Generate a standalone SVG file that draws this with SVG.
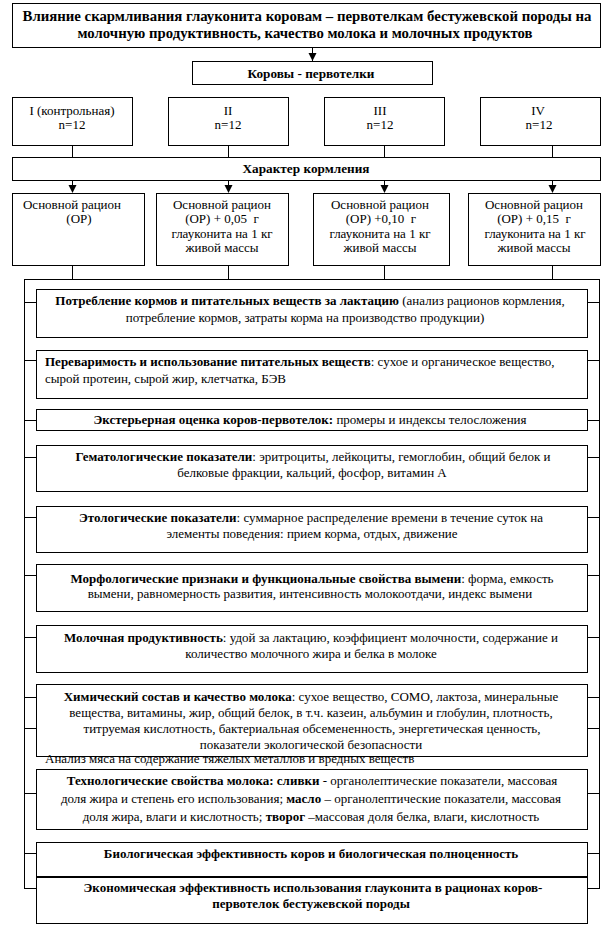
<svg xmlns="http://www.w3.org/2000/svg" width="613" height="926" viewBox="0 0 613 926">
<style>
.box{fill:#fff;stroke:#000;stroke-width:1}
.ln{stroke:#000;stroke-width:1;fill:none}
.t{font-family:'Liberation Serif','DejaVu Serif','Times New Roman',serif;font-size:13px;fill:#000}
.c{text-anchor:middle}
.b{font-weight:bold}
</style>
<rect width="613" height="926" fill="#fff"/>

<g id="connectors">
<line class="ln" x1="312.5" y1="48" x2="312.5" y2="61"/>
<path d="M308.5,53 L316.5,53 L312.5,61 Z" fill="#000"/>
<line class="ln" x1="72.5" y1="145" x2="72.5" y2="157"/>
<line class="ln" x1="228.5" y1="145" x2="228.5" y2="157"/>
<line class="ln" x1="384.5" y1="145" x2="384.5" y2="157"/>
<line class="ln" x1="552.5" y1="145" x2="552.5" y2="157"/>
<line class="ln" x1="72.5" y1="180" x2="72.5" y2="190"/>
<line class="ln" x1="228.5" y1="180" x2="228.5" y2="190"/>
<line class="ln" x1="384.5" y1="180" x2="384.5" y2="190"/>
<line class="ln" x1="552.5" y1="180" x2="552.5" y2="190"/>
<path d="M68.5,185 L76.5,185 L72.5,193 Z" fill="#000"/>
<path d="M224.5,185 L232.5,185 L228.5,193 Z" fill="#000"/>
<path d="M380.5,185 L388.5,185 L384.5,193 Z" fill="#000"/>
<path d="M548.5,185 L556.5,185 L552.5,193 Z" fill="#000"/>
<line class="ln" x1="72.5" y1="265" x2="72.5" y2="279"/>
<line class="ln" x1="228.5" y1="265" x2="228.5" y2="279"/>
<line class="ln" x1="384.5" y1="265" x2="384.5" y2="279"/>
<line class="ln" x1="552.5" y1="265" x2="552.5" y2="279"/>
<rect class="ln" x="24.5" y="279.5" width="575" height="609"/>
<path class="ln" d="M24,302.5H36M587,302.5H599M24,360.5H36M587,360.5H599M24,420.5H36M587,420.5H599M24,457.5H36M587,457.5H599M24,517.5H36M587,517.5H599M24,575.5H36M587,575.5H599M24,637.5H36M587,637.5H599M24,697.5H36M587,697.5H599M24,728.5H36M587,728.5H599M24,793.5H36M587,793.5H599M24,853.5H36M587,853.5H599"/>
</g>

<g id="title">
<rect class="box" x="12.5" y="3.5" width="588" height="44"/>
<text class="t b c" x="307" y="21" style="font-size:14px" textLength="569" lengthAdjust="spacingAndGlyphs">Влияние скармливания глауконита коровам – первотелкам бестужевской породы на</text>
<text class="t b c" x="305" y="38" style="font-size:14px" textLength="455" lengthAdjust="spacingAndGlyphs">молочную продуктивность, качество молока и молочных продуктов</text>
</g>

<g id="cows">
<rect class="box" x="192.5" y="61.5" width="240" height="23"/>
<text class="t b c" x="311" y="78" textLength="127" lengthAdjust="spacingAndGlyphs">Коровы - первотелки</text>
</g>

<g id="g1">
<rect class="box" x="12.5" y="97.5" width="120" height="48"/>
<text class="t c" x="72" y="115">I (контрольная)</text>
<text class="t c" x="72" y="129">n=12</text>
</g>
<g id="g2">
<rect class="box" x="168.5" y="97.5" width="120" height="48"/>
<text class="t c" x="228" y="115">II</text>
<text class="t c" x="228" y="129">n=12</text>
</g>
<g id="g3">
<rect class="box" x="324.5" y="97.5" width="120" height="48"/>
<text class="t c" x="380" y="115">III</text>
<text class="t c" x="380" y="129">n=12</text>
</g>
<g id="g4">
<rect class="box" x="480.5" y="97.5" width="120" height="48"/>
<text class="t c" x="538" y="115">IV</text>
<text class="t c" x="539" y="129">n=12</text>
</g>

<g id="feeding">
<rect class="box" x="12.5" y="157.5" width="588" height="23"/>
<text class="t b c" x="306" y="173" textLength="127" lengthAdjust="spacingAndGlyphs">Характер кормления</text>
</g>

<g id="d1">
<rect class="box" x="12.5" y="193.5" width="132" height="72"/>
<text class="t c" x="72" y="209">Основной рацион</text>
<text class="t c" x="79" y="223">(ОР)</text>
</g>
<g id="d2">
<rect class="box" x="156.5" y="193.5" width="132" height="72"/>
<text class="t c" x="222" y="209">Основной рацион</text>
<text class="t c" x="222" y="223" xml:space="preserve">(ОР) + 0,05  г</text>
<text class="t c" x="222" y="238">глауконита на 1 кг</text>
<text class="t c" x="222" y="252">живой массы</text>
</g>
<g id="d3">
<rect class="box" x="313.5" y="193.5" width="136" height="72"/>
<text class="t c" x="380" y="209">Основной рацион</text>
<text class="t c" x="381" y="223" xml:space="preserve">(ОР) +0,10  г</text>
<text class="t c" x="380" y="238">глауконита на 1 кг</text>
<text class="t c" x="380" y="252">живой массы</text>
</g>
<g id="d4">
<rect class="box" x="468.5" y="193.5" width="132" height="72"/>
<text class="t c" x="534" y="209">Основной рацион</text>
<text class="t c" x="534" y="223" xml:space="preserve">(ОР) + 0,15  г</text>
<text class="t c" x="535" y="238">глауконита на 1 кг</text>
<text class="t c" x="534" y="252">живой массы</text>
</g>

<g id="b1">
<rect class="box" x="36.5" y="289.5" width="551" height="48"/>
<text class="t c" x="310" y="305"><tspan class="b">Потребление кормов и питательных веществ за лактацию</tspan> (анализ рационов кормления,</text>
<text class="t c" x="305" y="322">потребление кормов, затраты корма на производство продукции)</text>
</g>
<g id="b2">
<rect class="box" x="36.5" y="350.5" width="551" height="48"/>
<text class="t" x="45" y="366"><tspan class="b">Переваримость и использование питательных веществ</tspan>: сухое и органическое вещество,</text>
<text class="t" x="45" y="383">сырой протеин, сырой жир, клетчатка, БЭВ</text>
</g>
<g id="b3">
<rect class="box" x="36.5" y="409.5" width="551" height="21"/>
<text class="t c" x="310" y="424"><tspan class="b">Экстерьерная оценка коров-первотелок:</tspan> промеры и индексы телосложения</text>
</g>
<g id="b4">
<rect class="box" x="36.5" y="445.5" width="551" height="46"/>
<text class="t c" x="313" y="461"><tspan class="b">Гематологические показатели</tspan>: эритроциты, лейкоциты, гемоглобин, общий белок и</text>
<text class="t c" x="312" y="477">белковые фракции, кальций, фосфор, витамин А</text>
</g>
<g id="b5">
<rect class="box" x="36.5" y="506.5" width="551" height="46"/>
<text class="t c" x="311" y="522"><tspan class="b">Этологические показатели</tspan>: суммарное распределение времени в течение суток на</text>
<text class="t c" x="312" y="538">элементы поведения: прием корма, отдых, движение</text>
</g>
<g id="b6">
<rect class="box" x="36.5" y="564.5" width="551" height="47"/>
<text class="t c" x="312" y="583"><tspan class="b">Морфологические признаки и функциональные свойства вымени</tspan>: форма, емкость</text>
<text class="t c" x="310" y="598">вымени, равномерность развития, интенсивность молокоотдачи, индекс вымени</text>
</g>
<g id="b7">
<rect class="box" x="36.5" y="625.5" width="551" height="47"/>
<text class="t c" x="311" y="642"><tspan class="b">Молочная продуктивность</tspan>: удой за лактацию, коэффициент молочности, содержание и</text>
<text class="t c" x="311" y="658">количество молочного жира и белка в молоке</text>
</g>
<g id="b8">
<rect class="box" x="36.5" y="684.5" width="551" height="72"/>
<text class="t c" x="311" y="701"><tspan class="b">Химический состав и качество молока</tspan>: сухое вещество, СОМО, лактоза, минеральные</text>
<text class="t c" x="311" y="717">вещества, витамины, жир, общий белок, в т.ч. казеин, альбумин и глобулин, плотность,</text>
<text class="t c" x="312" y="733">титруемая кислотность, бактериальная обсемененность, энергетическая ценность,</text>
<text class="t c" x="311" y="749">показатели экологической безопасности</text>
</g>
<g id="meat">
<text class="t" x="45" y="763">Анализ мяса на содержание тяжелых металлов и вредных веществ</text>
</g>
<g id="b9">
<rect class="box" x="36.5" y="769.5" width="551" height="60"/>
<text class="t c" x="312" y="785"><tspan class="b">Технологические свойства молока: сливки</tspan> - органолептические показатели, массовая</text>
<text class="t c" x="311" y="803">доля жира и степень его использования; <tspan class="b">масло</tspan> – органолептические показатели, массовая</text>
<text class="t c" x="311" y="821">доля жира, влаги и кислотность; <tspan class="b">творог</tspan> –массовая доля белка, влаги, кислотность</text>
</g>
<g id="b10">
<rect class="box" x="36.5" y="842.5" width="551" height="34"/>
<text class="t b c" x="311" y="858">Биологическая эффективность коров и биологическая полноценность</text>
</g>
<g id="b11">
<rect class="box" x="36.5" y="877.5" width="551" height="46"/>
<text class="t b c" x="313" y="892">Экономическая эффективность использования глауконита в рационах коров-</text>
<text class="t b c" x="311" y="908">первотелок бестужевской породы</text>
</g>
</svg>
